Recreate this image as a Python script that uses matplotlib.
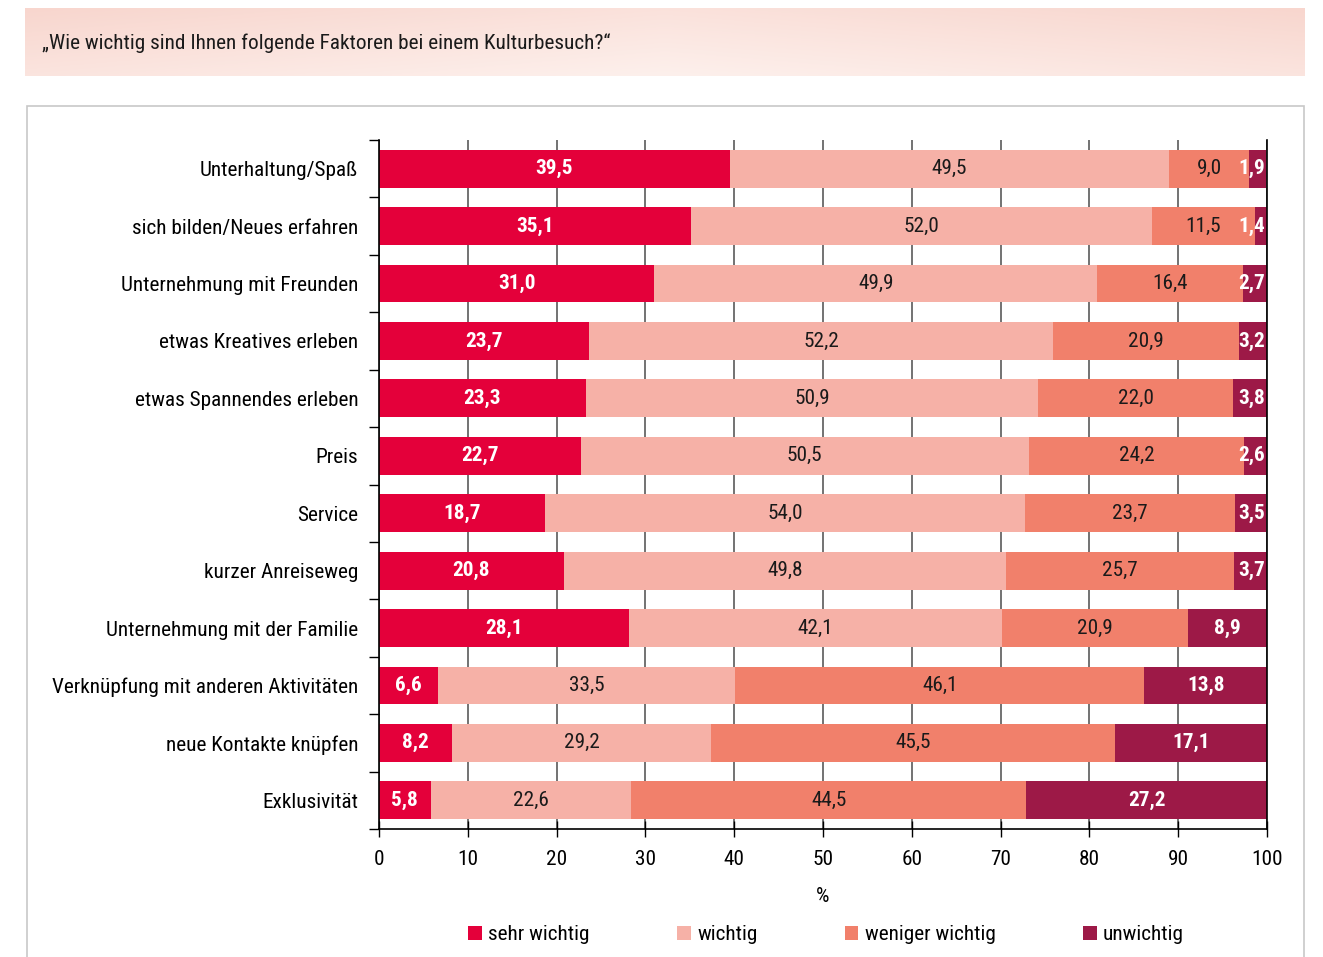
import matplotlib
matplotlib.use("Agg")
import matplotlib.pyplot as plt
import numpy as np
from matplotlib.patches import Rectangle

plt.rcParams['font.family'] = ['Liberation Sans Narrow', 'Roboto Condensed', 'DejaVu Sans']
plt.rcParams['font.stretch'] = 'condensed'

categories = ["Unterhaltung/Spaß", "sich bilden/Neues erfahren", "Unternehmung mit Freunden",
              "etwas Kreatives erleben", "etwas Spannendes erleben", "Preis", "Service",
              "kurzer Anreiseweg", "Unternehmung mit der Familie",
              "Verknüpfung mit anderen Aktivitäten", "neue Kontakte knüpfen", "Exklusivität"]
sehr_wichtig = [39.5, 35.1, 31.0, 23.7, 23.3, 22.7, 18.7, 20.8, 28.1, 6.6, 8.2, 5.8]
wichtig = [49.5, 52.0, 49.9, 52.2, 50.9, 50.5, 54.0, 49.8, 42.1, 33.5, 29.2, 22.6]
weniger_wichtig = [9.0, 11.5, 16.4, 20.9, 22.0, 24.2, 23.7, 25.7, 20.9, 46.1, 45.5, 44.5]
unwichtig = [1.9, 1.4, 2.7, 3.2, 3.8, 2.6, 3.5, 3.7, 8.9, 13.8, 17.1, 27.2]
series_names = ["sehr wichtig", "wichtig", "weniger wichtig", "unwichtig"]
title = "„Wie wichtig sind Ihnen folgende Faktoren bei einem Kulturbesuch?“"

colors = ["#E4003A", "#F6B1A7", "#F1806B", "#9D1947"]
text_colors = ["white", "#1a1a1a", "#1a1a1a", "white"]
weights = ["bold", "normal", "normal", "bold"]

W, H = 1323, 957
FS = 15.3
fig = plt.figure(figsize=(W / 100, H / 100), dpi=100)

# header band with soft gradient
hax = fig.add_axes([25 / W, 1 - 76 / H, 1280 / W, 68 / H])
gx = np.linspace(0, 1, 200)
gy = np.linspace(0, 1, 50)
GX, GY = np.meshgrid(gx, gy)
t = np.clip(0.55 * GY + 0.45 * (1 - np.abs(GX - 0.5) * 2), 0, 1)
top = np.array([248, 214, 206]) / 255
bot = np.array([253, 240, 236]) / 255
img = top[None, None, :] * (1 - t[..., None]) + bot[None, None, :] * t[..., None]
hax.imshow(img, aspect='auto', extent=[0, 1, 0, 1], origin='upper')
hax.axis('off')
fig.text(42 / W, 1 - 43 / H, title, fontsize=FS, va='center', ha='left', color='#1a1a1a')

# outer frame
fig.patches.append(Rectangle((27 / W, -0.01), 1277 / W, 1 - 106 / H + 0.01,
                             transform=fig.transFigure, fill=False,
                             edgecolor='#C8C8C8', linewidth=1.2))

ax = fig.add_axes([379 / W, 1 - 829 / H, 888 / W, 689 / H])
y = np.arange(len(categories))
data = [sehr_wichtig, wichtig, weniger_wichtig, unwichtig]
left = np.zeros(len(categories))
handles = []
for i, vals in enumerate(data):
    vals = np.array(vals)
    b = ax.barh(y, vals, left=left, height=0.66, color=colors[i], zorder=2,
                label=series_names[i])
    handles.append(b)
    for j, v in enumerate(vals):
        cx = left[j] + v / 2
        ha = 'center'
        if i == 3 and v < 5:
            cx, ha = 99.8, 'right'
        ax.text(cx, y[j], f"{v:.1f}".replace(".", ","), ha=ha, va='center',
                color=text_colors[i], fontweight=weights[i], fontsize=FS, zorder=3)
    left = left + vals

ax.set_xlim(0, 100)
ax.set_ylim(len(categories) - 0.5, -0.5)
ax.set_xticks(np.arange(0, 101, 10))
ax.tick_params(axis='x', direction='inout', length=12, width=1, labelsize=FS, pad=9)
ax.set_yticks(y)
ax.set_yticklabels(categories, fontsize=FS)
ax.tick_params(axis='y', length=0, pad=15)
ax.set_yticks(np.arange(-0.5, len(categories)), minor=True)
ax.tick_params(axis='y', which='minor', length=7, width=1, direction='out')
ax.grid(axis='x', color='#5a5a5a', linewidth=1.2, zorder=0)
ax.set_axisbelow(True)
ax.spines['top'].set_visible(False)
for s in ['left', 'bottom', 'right']:
    ax.spines[s].set_color('black')
    ax.spines[s].set_linewidth(1.2)
ax.set_xlabel("%", fontsize=FS, labelpad=13)

fig.legend(handles, series_names, loc='center', bbox_to_anchor=(826 / W, 1 - 935 / H),
           ncol=4, frameon=False, fontsize=FS, handlelength=0.65, handleheight=0.65,
           handletextpad=0.3, columnspacing=4.1)

fig.savefig("out.png", dpi=100)
